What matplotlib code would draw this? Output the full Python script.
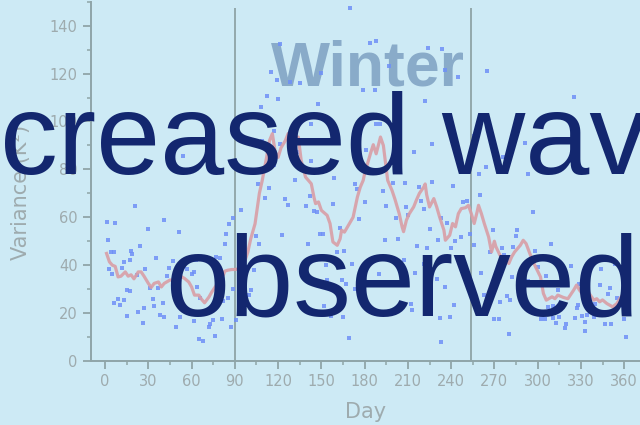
import matplotlib
matplotlib.use("Agg")
import matplotlib.pyplot as plt
from matplotlib.ticker import MultipleLocator

# Daily variance samples (day of year, variance in K^2)
point_days = [
    1, 7, 21, 41, 30, 51, 2, 24, 4, 6, 18, 19, 17, 13, 35, 3, 12, 5, 22, 28,
    44, 43, 47, 15, 17, 31, 37, 6, 9, 10, 13, 33, 34, 40, 27, 15, 23, 38, 41, 26,
    49, 52, 62, 65, 68, 72, 73, 75, 76, 81, 87, 85, 82, 64, 66, 60, 62, 61, 63, 57,
    77, 80, 83, 84, 86, 89, 94, 106, 111, 114, 105, 107, 103, 100, 101, 91, 89, 54,
    123, 125, 127, 141, 142, 139, 145, 147, 158, 149, 151, 161, 166, 163, 173, 175,
    176, 180, 171, 153, 154, 164, 167, 173, 152, 157, 165, 169, 190, 193, 195, 202,
    194, 203, 207, 208, 209, 210, 215, 212, 213, 216, 218, 219, 221, 221, 223, 225,
    227, 231, 230, 233, 236, 232, 233, 239, 242, 240, 237, 241, 243, 200,
    115, 112, 108, 117, 109, 121, 119, 128, 135, 150, 120, 148, 143, 121, 133, 117,
    143, 159, 132, 170, 184, 188, 179, 187, 197, 224, 234, 236, 245, 222, 188, 191,
    227, 214, 181,
    265, 325, 291, 276, 264, 259, 293, 256, 260, 248, 251, 297, 247, 253, 256, 269,
    286, 285, 267, 275, 277, 283, 298, 309, 261, 282, 289, 293, 300, 306, 323, 344,
    354, 362, 263, 279, 281, 274, 314, 329, 343, 350, 349, 355, 328, 327, 307, 311,
    340, 359, 270, 273, 302, 305, 311, 315, 313, 320, 331, 334, 339, 333, 347, 351,
    360, 280, 333, 361, 319, 326,
]
point_values = [
    57.9, 57.6, 64.7, 58.8, 55.1, 53.7, 50.7, 48.2, 45.3, 45.6, 45.8, 44.6, 42.0, 41.4, 42.8, 38.2, 38.8, 36.4, 36.0, 38.2,
    39.0, 35.4, 41.7, 29.6, 29.2, 30.3, 30.3, 24.3, 25.8, 23.3, 25.4, 25.8, 23.0, 24.3, 22.1, 18.6, 20.3, 19.2, 18.2, 16.0,
    14.3, 18.2, 16.8, 9.3, 8.2, 14.4, 15.5, 17.0, 10.4, 17.4, 14.0, 26.4, 25.0, 31.0, 26.4, 36.5, 37.0, 42.0, 42.0, 38.2,
    43.5, 42.9, 49.0, 53.2, 57.0, 59.9, 62.9, 73.7, 68.0, 72.4, 52.2, 49.0, 37.9, 27.5, 29.6, 17.0, 30.2, 85.4,
    52.8, 67.5, 65.3, 49.0, 68.8, 64.7, 62.5, 62.0, 65.7, 53.2, 53.2, 45.5, 45.8, 55.6, 74.0, 72.0,
    59.2, 66.3, 40.7, 40.0, 34.0, 34.0, 32.0, 29.9, 23.0, 18.8, 18.2, 9.7, 36.5, 70.8, 64.7, 59.9,
    50.6, 51.0, 42.1, 74.3, 64.3, 61.0, 36.8, 24.0, 21.3, 48.0, 72.6, 66.8, 63.5, 40.4, 47.0, 54.9,
    74.7, 50.4, 34.4, 59.5, 31.0, 17.8, 7.8, 18.5, 23.3, 47.1, 57.8, 73.0, 50.0, 74.3,
    120.5, 110.8, 106.0, 96.0, 92.0, 132.4, 117.5, 116.5, 116.1, 120.4, 109.5, 107.5, 99.0, 90.4, 87.4, 81.7,
    83.5, 76.2, 75.6, 147.3, 132.9, 133.5, 113.2, 113.0, 123.3, 130.7, 130.3, 121.5, 118.5, 108.4, 99.0, 99.0,
    90.4, 87.2, 88.0,
    121.0, 110.4, 91.1, 85.1, 81.0, 77.9, 78.2, 94.1, 69.2, 66.4, 66.8, 62.2, 51.8, 53.2, 48.3, 54.5,
    54.6, 52.1, 45.5, 47.0, 44.2, 47.6, 46.0, 49.0, 36.6, 35.1, 35.5, 33.5, 39.3, 35.4, 39.7, 38.2,
    40.4, 39.0, 27.5, 27.0, 25.4, 24.7, 29.6, 32.0, 31.9, 30.3, 27.8, 26.1, 23.3, 22.2, 22.6, 22.9,
    24.0, 22.9, 17.4, 17.4, 17.4, 17.4, 17.8, 18.2, 15.7, 15.3, 18.8, 19.2, 18.5, 16.4, 15.4, 15.4,
    17.4, 11.3, 12.5, 9.9, 13.6, 17.8,
]

# Smoothed variance curve
line_days = [
    1, 3, 5, 7, 9, 11, 14, 16, 18, 20, 23, 25, 27, 30, 32, 34, 37, 39, 41, 45,
    50, 53, 55, 58, 60, 62, 65, 67, 69, 72, 74, 77, 80, 82, 83, 85, 88, 90, 93, 96,
    99, 101, 104, 107, 109, 112, 114, 116, 118, 120, 122, 125, 127, 129, 132, 134, 136, 139, 141, 143,
    145, 146, 148, 150, 154, 156, 158, 161, 163, 164, 166, 169, 172, 175, 177, 179, 180, 184, 186, 188,
    191, 193, 196, 199, 201, 204, 206, 207, 209, 211, 214, 216, 218, 221, 222, 223, 225, 228, 230, 232,
    235, 236, 239, 241, 243, 245, 247, 250, 252, 254, 256, 258, 259, 261, 263, 266, 268, 270, 271, 274,
    277, 280, 282, 284, 288, 290, 292, 295, 298, 302, 304, 306, 310, 312, 314, 318, 321, 325, 327, 329,
    331, 334, 336, 339, 341, 343, 345, 348, 350, 352, 355, 357, 359, 360,
]
line_values = [
    44.9, 41.4, 40.0, 39.5, 35.1, 35.4, 37.2, 35.4, 36.0, 34.3, 37.2, 37.2, 35.4, 32.4, 30.7, 32.4, 33.0, 30.9, 32.4, 33.8,
    33.8, 35.2, 34.5, 33.0, 30.9, 27.5, 27.5, 25.7, 24.3, 26.7, 28.8, 31.5, 35.0, 35.8, 37.5, 37.9, 38.2, 38.2, 38.5, 40.0,
    45.5, 51.0, 57.3, 70.0, 75.4, 85.0, 92.0, 94.9, 87.2, 85.0, 89.0, 92.0, 95.0, 93.5, 92.0, 93.5, 83.7, 76.8, 75.4, 74.0,
    68.0, 65.7, 66.4, 62.9, 60.8, 57.4, 49.7, 48.3, 51.0, 54.6, 53.8, 56.9, 60.0, 68.5, 72.6, 75.4, 78.2, 86.5, 90.3, 86.5,
    93.5, 90.0, 75.4, 71.2, 67.6, 61.5, 56.0, 54.0, 58.8, 61.5, 64.3, 67.3, 70.0, 72.6, 73.9, 69.5, 64.3, 67.8, 64.3, 60.1,
    54.6, 50.4, 52.5, 57.4, 56.0, 61.5, 63.6, 64.0, 65.0, 61.5, 57.4, 62.2, 65.0, 61.5, 57.4, 51.8, 45.5, 50.0, 47.8, 44.0,
    43.0, 40.7, 43.5, 45.5, 48.3, 50.4, 49.0, 44.2, 40.0, 35.1, 28.2, 25.4, 26.8, 26.0, 27.5, 26.5, 26.0, 29.6, 31.7, 29.6,
    28.0, 30.3, 28.0, 25.4, 26.0, 24.7, 25.5, 24.0, 23.3, 22.6, 24.0, 26.1, 27.5, 27.9,
]

season_bounds = [90, 254]
x_ticks = list(range(0, 361, 30))
y_ticks = list(range(0, 141, 20))

BG = "#cdeaf5"
AXIS = "#8fa5a8"
TICKTXT = "#9eabae"

fig = plt.figure(figsize=(6.4, 4.25), dpi=100, facecolor=BG)
ax = fig.add_axes([0.1417, 0.1506, 0.8583, 0.8454])
ax.set_facecolor(BG)

ax.vlines(season_bounds, 0, max(point_values), color="#8ea4a6", linewidth=1.3, zorder=1)

ax.text(182.5, 115, "Winter", ha="center", va="baseline",
        fontsize=45, fontweight="bold", family="Liberation Sans",
        color="#89abc9", zorder=2)

ax.scatter(point_days, point_values, marker="s", s=10, color="#6f90f7",
           alpha=0.85, linewidths=0, zorder=3)
ax.plot(line_days, line_values, color="#d99ea6", linewidth=2.3, alpha=0.9, zorder=4)

ax.set_xlim(-10, 371)
ax.set_ylim(0, 150)
ax.set_xticks(x_ticks)
ax.set_yticks(y_ticks)
ax.xaxis.set_minor_locator(MultipleLocator(15))
ax.yaxis.set_minor_locator(MultipleLocator(10))

for side in ("top", "right"):
    ax.spines[side].set_visible(False)
for side in ("left", "bottom"):
    ax.spines[side].set_color(AXIS)
    ax.spines[side].set_linewidth(1.4)

ax.tick_params(which="major", length=5.5, width=1.3, color=AXIS,
               labelcolor=TICKTXT, labelsize=10.5, pad=4)
ax.tick_params(which="minor", length=3, width=1.1, color=AXIS)

ax.set_xlabel("Day", fontsize=15, color=TICKTXT)
ax.xaxis.set_label_coords(0.5, -0.115)
ax.set_ylabel("Variance (K²)", fontsize=15, color=TICKTXT)
ax.yaxis.set_label_coords(-0.108, 0.47)

# Headline overlaid across the chart
headline = dict(fontsize=83, family="Liberation Sans", color="#13276f",
                ha="left", va="baseline", zorder=10)
fig.text(-96 / 640, 1 - 174 / 425, "Increased wave", **headline)
fig.text(165 / 640, 1 - 316 / 425, "observed", **headline)

fig.savefig("out.png", dpi=100, facecolor=BG)
